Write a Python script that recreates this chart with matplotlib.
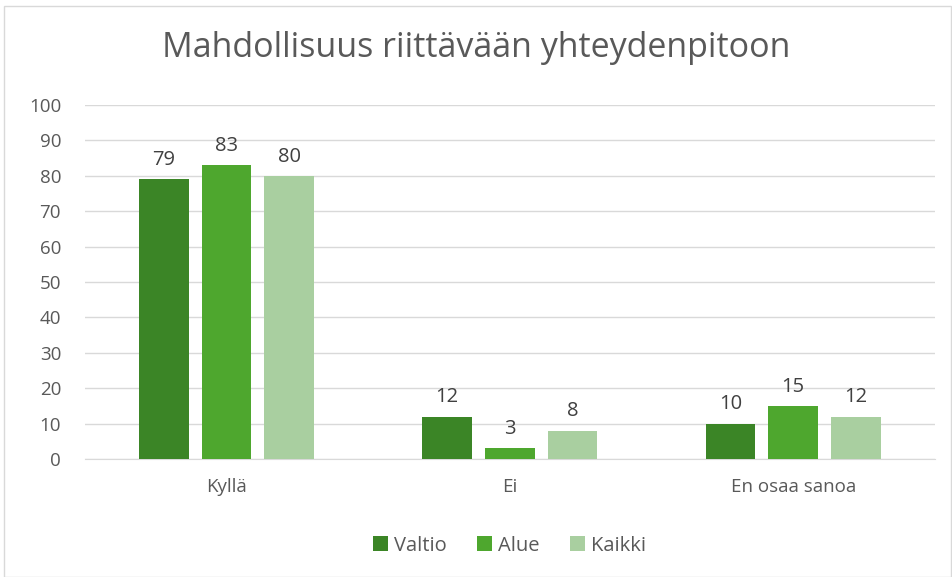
import matplotlib.pyplot as plt
import numpy as np
from matplotlib.patches import Rectangle

categories = ["Kyllä", "Ei", "En osaa sanoa"]
series_names = ["Valtio", "Alue", "Kaikki"]
valtio = [79, 12, 10]
alue = [83, 3, 15]
kaikki = [80, 8, 12]
colors = ["#3B8526", "#4EA72E", "#A9CFA0"]

plt.rcParams["font.family"] = ["Open Sans", "DejaVu Sans"]
text_col = "#595959"

fig = plt.figure(figsize=(9.52, 5.77), dpi=100)
ax = fig.add_axes([0.089, 0.2045, 0.893, 0.6135])
fig.patches.append(Rectangle((0.004, 0.0), 0.995, 0.99, transform=fig.transFigure,
                             fill=False, edgecolor="#D9D9D9", linewidth=1))

x = np.arange(len(categories))
width = 0.175
offset = 0.221
for i, (vals, name) in enumerate(zip([valtio, alue, kaikki], series_names)):
    bars = ax.bar(x + (i - 1) * offset, vals, width, color=colors[i], label=name, zorder=3)
    for b, v in zip(bars, vals):
        ax.text(b.get_x() + b.get_width() / 2, v + 2.6, str(v), ha="center", va="bottom",
                fontsize=14.5, color="#404040")

ax.set_xlim(-0.5, 2.5)
ax.set_ylim(0, 100)
ax.set_yticks(range(0, 101, 10))
ax.set_xticks(x)
ax.set_xticklabels(categories)
ax.tick_params(axis="both", length=0, labelsize=13.5, colors=text_col)
ax.tick_params(axis="x", pad=14)
ax.tick_params(axis="y", pad=17)
ax.grid(axis="y", color="#D9D9D9", linewidth=1, zorder=0)
for s in ["top", "right", "left"]:
    ax.spines[s].set_visible(False)
ax.spines["bottom"].set_color("#D9D9D9")

fig.text(0.5, 0.917, "Mahdollisuus riittävään yhteydenpitoon", ha="center", va="center",
         fontsize=24.5, color=text_col)

ax.legend(loc="upper center", bbox_to_anchor=(0.5, -0.165), ncol=3, frameon=False,
          fontsize=14.5, labelcolor=text_col, handlelength=0.75, handleheight=0.75,
          handletextpad=0.3, columnspacing=1.5)

fig.savefig("out.png", dpi=100)
